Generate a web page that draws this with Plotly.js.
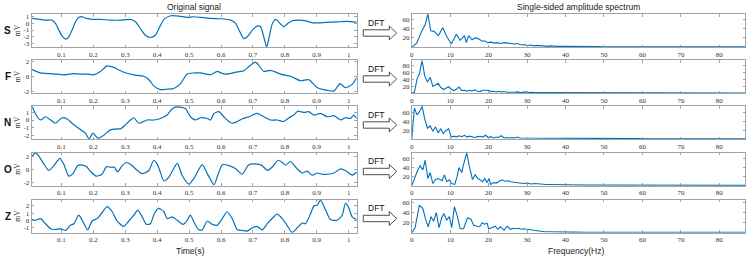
<!DOCTYPE html>
<html><head><meta charset="utf-8">
<script src="https://cdn.plot.ly/plotly-3.0.1.min.js"></script>
<style>html,body{margin:0;padding:0;background:#fff}#c{width:748px;height:263px}</style>
</head><body><div id="c"></div>
<script>
// ---------- data ----------
const classes = ['S','F','N','O','Z'];
const leftTitle = 'Original signal';
const rightTitle = 'Single-sided amplitude spectrum';
const timeLabel = 'Time(s)';
const freqLabel = 'Frequency(Hz)';
const yUnit = 'mV';

const tS = [0.008,0.034,0.055,0.071,0.081,0.092,0.102,0.113,0.123,0.133,0.144,0.154,0.165,0.178,0.196,0.222,0.253,0.285,0.316,0.332,0.347,0.363,0.379,0.394,0.408,0.421,0.442,0.468,0.494,0.515,0.536,0.567,0.599,0.63,0.646,0.659,0.671,0.684,0.698,0.713,0.724,0.734,0.743,0.751,0.761,0.771,0.785,0.797,0.809,0.823,0.844,0.865,0.886,0.912,0.943,0.975,0.995,1.025];
const yS = [0.77,0.62,0.51,0.51,0,-1.03,-1.95,-2.41,-2.05,-1.03,0.26,0.92,1.03,0.77,0.62,0.62,0.51,0.51,0.62,0.26,-0.77,-1.8,-2.15,-1.8,-0.51,0.62,1.18,1.13,0.92,1.03,0.92,0.77,0.72,0.51,0,-1.28,-2.31,-1.95,-1.03,-0.41,-0.51,-2.05,-3.59,-2.05,0,0.62,0,-0.51,0,0.41,0.51,0.41,0.1,0.1,0.2,0.26,0.31,0.2];

const tF = [0.008,0.034,0.066,0.085,0.107,0.125,0.138,0.16,0.18,0.201,0.222,0.243,0.264,0.28,0.295,0.327,0.358,0.375,0.389,0.41,0.43,0.452,0.473,0.494,0.515,0.536,0.567,0.588,0.603,0.619,0.651,0.672,0.687,0.708,0.72,0.734,0.755,0.787,0.818,0.849,0.875,0.902,0.933,0.954,0.973,0.99,1.011,1.025];
const yF = [0.9,0.45,0.35,0.3,0.2,0.3,0.35,0.3,0.3,0.2,0.65,1.4,1.2,0.85,0.55,0.2,0,-0.5,-1.3,-1.8,-1.75,-1.65,-1.0,0.3,0.45,0.45,0.2,0.65,0.4,0.3,0.6,0.75,1.3,1.9,1.4,0.65,0.8,0.3,0,-0.6,-0.45,-1.55,-1.9,-2.0,-1.0,-1.55,-1.1,-0.2];

const tN = [0.008,0.024,0.034,0.05,0.066,0.081,0.102,0.118,0.133,0.154,0.175,0.186,0.199,0.214,0.233,0.253,0.274,0.285,0.3,0.316,0.327,0.342,0.368,0.389,0.41,0.431,0.447,0.463,0.489,0.504,0.52,0.536,0.557,0.567,0.578,0.593,0.609,0.625,0.635,0.651,0.666,0.687,0.713,0.734,0.755,0.776,0.797,0.813,0.828,0.841,0.86,0.875,0.891,0.912,0.933,0.954,0.975,0.99,1.006,1.016,1.025];
const yN = [1.74,0.43,0,0.43,0,-0.43,0.3,0.13,-0.43,-1.1,-1.74,-2.48,-1.74,-2.4,-2.0,-1.3,-1.17,-1.17,-0.65,0,0.3,-0.43,0,0,0.2,0.65,1.5,1.74,1.5,0.43,0,0.3,0.2,0,0.87,1.1,0.43,-0.2,-0.43,-0.2,0.13,0.43,0.87,0.43,0,0,-0.2,0.3,0.65,1.17,1.0,1.1,0.65,0.87,0.43,0.57,0,0.3,0.2,0.65,0.2];

const tO = [0.008,0.019,0.029,0.045,0.06,0.076,0.095,0.107,0.123,0.136,0.151,0.165,0.178,0.193,0.209,0.227,0.241,0.253,0.266,0.276,0.29,0.304,0.318,0.332,0.353,0.374,0.389,0.4,0.408,0.421,0.436,0.463,0.478,0.499,0.515,0.541,0.557,0.578,0.59,0.604,0.625,0.646,0.666,0.687,0.713,0.729,0.745,0.76,0.779,0.792,0.802,0.818,0.834,0.855,0.87,0.886,0.902,0.917,0.933,0.954,0.975,0.99,1.011,1.025];
const yO = [2.05,2.54,2.05,0.83,-0.15,0.59,1.71,0.83,-1.02,-0.63,0.59,0.68,0.44,-0.39,-1.02,-0.73,0.44,0.34,0.34,-0.39,0.59,1.07,0.73,0.1,-0.63,-0.15,1.41,0.83,-0.15,-1.76,-1.22,0.93,-0.88,-2.24,-1.37,0.73,-0.63,-2.34,-0.88,0.73,0.59,0.1,-0.73,0.73,0.83,0.59,-0.15,0.34,1.41,1.07,0.68,1.22,0.34,-0.54,-0.24,-0.88,-0.54,-0.73,-0.73,-0.54,0.1,-0.15,-0.88,-0.39];

const tZ = [0.008,0.019,0.034,0.05,0.066,0.081,0.097,0.113,0.128,0.139,0.154,0.165,0.182,0.196,0.212,0.227,0.243,0.259,0.274,0.295,0.311,0.327,0.339,0.353,0.366,0.379,0.391,0.405,0.421,0.431,0.447,0.463,0.481,0.494,0.504,0.515,0.53,0.541,0.557,0.573,0.588,0.604,0.619,0.635,0.651,0.666,0.682,0.698,0.713,0.729,0.745,0.76,0.776,0.792,0.807,0.823,0.839,0.855,0.865,0.881,0.891,0.902,0.912,0.928,0.943,0.964,0.98,0.99,1.001,1.011,1.025];
const yZ = [0.1,0,0.24,-0.48,-1.19,-1.29,-1.19,-1.43,-0.71,-0.48,0.71,0,-1.33,-0.1,0.24,1.05,1.9,1.19,-0.1,-0.86,-0.1,0.71,1.43,0.48,-0.57,-0.48,0.95,1.67,1.19,0.24,0.48,0,-0.57,0,0.71,-0.24,-1.33,-1.33,-0.1,-0.57,-0.71,0.24,1.19,0.24,-1.33,-1.43,-1.52,-1.05,-0.86,-1.33,-0.48,0.24,0.86,0.24,-0.71,-1.7,-1.05,-0.38,-0.48,0.95,2.0,2.14,2.8,1.43,0.1,0,0.71,2.38,1.67,0.48,0.1];

const fS = [0,1.3,2.6,3.5,4.2,4.95,5.8,6.95,8.1,9.1,10.3,11.6,12.6,13.7,14.2,14.8,15.7,16.5,17.4,18.3,19,19.8,20.6,21.5,22.3,23.2,24.1,25,25.8,26.7,27.5,28.4,29.2,30.1,31,31.8,32.7,33.5,34.4,35.3,36.2,37,38,40,42,44,46,48,50,52,55,58,61,64,67,70,73,76,79,82,85,86.8];
const aS = [0,9,34,48,71,35,34,25,42,23,7,28,15,25,10,25,16,20,18,13,14,10,11,9,10,8,10,9,8,7,8,5,6,4,5,3,4,3,3,2,3,2,2,2,1.5,2,1.5,1.5,1.2,1.5,1.2,1.3,1,1.2,1,1.1,1,1,0.9,1,0.9,1];

const fF = [0,0.7,1.4,2.0,2.7,3.4,4.1,4.8,5.5,6.2,6.9,7.5,8.2,8.9,9.6,10.3,11,11.6,12.3,13,13.7,14.4,15,15.7,16.4,17.1,17.8,18.5,19.2,19.9,20.6,21.3,22,22.6,23.3,24,24.7,25.4,26.1,26.8,27.5,28.2,28.9,29.6,30.3,31,32,33,34,35,37,39,41,43,46,50,54,58,62,66,70,74,78,82,86.8];
const aF = [0,3,42,57,95,50,33,47,20,24,29,18,11,15,19,12,8,12,18,8,9,6,9,7,10,6,5,9,8,9,5,6,4,6,4,5,3,4,3,3,4,2,3,4,2,3,2,3,2,2,2,1.5,2,1.5,1.5,1.2,1.3,1,1.2,1,1.1,1,1,0.9,1];

const fN = [0,0.7,1.4,2.0,2.7,3.4,4.1,4.8,5.5,6.2,6.9,7.5,8.2,8.9,9.6,10.3,11,11.6,12.3,13,13.7,14.4,15,15.7,16.4,17.1,17.8,18.5,19.2,19.9,20.6,21.3,22,22.6,23.3,24,24.7,25.4,26.1,26.8,27.5,28.2,29,30,31,32,33,34,35,37,39,41,44,47,50,54,58,62,66,70,74,78,82,86.8];
const aN = [0,70,55,62,74,45,25,30,18,28,14,24,13,20,24,5,7,5,8,6,9,5,7,6,4,6,7,5,9,4,6,3,5,4,8,3,4,3,4,3,5,3,3,2,3,3,2,3,2,3,2,2,2,1.5,2,1.5,1.5,1.2,1.3,1.2,1,1.1,1,1];

const fO = [0,0.9,1.6,2.2,2.9,3.5,4.2,4.8,5.5,6.2,6.8,7.4,7.9,8.5,9.1,9.8,10.4,11.2,11.8,12.3,13,13.6,14.3,15,15.8,16.5,17.2,17.8,18.4,19,19.6,20.1,20.5,21.3,22,22.6,23.5,24.2,25,25.8,26.6,27.4,28.2,29,30,31,32,33,34,35,36,38,40,43,46,50,54,58,62,66,70,74,78,82,86.8];
const aO = [0,20,35,44,35,56,16,29,5,14,16,14,11,24,9,13,5,3,20,40,29,50,72,42,14,24,16,13,9,16,7,16,3,7,6,9,13,10,11,9,8,8,6,5,6,4,5,4,4,3,3,2.5,2,2,1.5,1.5,1.3,1.2,1.2,1,1.1,1,1,0.9,1];

const fZ = [0,0.87,2.0,2.9,3.6,4.3,5,5.7,6.4,7.1,7.8,8.4,9.1,9.8,10.4,11.1,11.9,12.6,13.5,14.5,15.4,16.1,17,17.7,18.3,18.9,19.6,20,20.9,21.7,22.4,23.1,24,24.8,25.7,26.5,27.2,27.8,28.5,29.1,29.8,30.4,31.1,31.8,32.6,33.5,34.5,35.5,37,39,42,45,48,52,56,60,64,68,72,76,80,84,86.8];
const aZ = [0,10,55,48,27,12,32,23,40,10,30,38,25,32,10,52,32,8,8,30,27,15,13,12,20,17,19,8,10,13,7,12,5,13,7,9,8,9,7,8,7,7,6,5,4,2,2,2,1.5,1.5,1.3,1.2,1.2,1,1.1,1,1,0.9,1,0.9,1,0.9,1];

const timeSeries = [[tS,yS],[tF,yF],[tN,yN],[tO,yO],[tZ,yZ]];
const spectra = [[fS,aS],[fF,aF],[fN,aN],[fO,aO],[fZ,aZ]];

const leftRanges = [[-3.65,1.45],[-2.3,2.2],[-2.55,1.85],[-2.5,2.6],[-1.75,2.9]];
const leftTicks = [[1,0,-1,-2,-3],[2,0,-2],[1,0,-1,-2],[2,0,-2],[2,1,0,-1]];
const rightRanges = [[0,71],[0,97],[0,75],[0,73],[0,66]];
const rightTicks = [[20,40,60],[20,40,60,80],[20,40,60],[20,40,60],[20,40,60]];
const timeTicks = [0.1,0.2,0.3,0.4,0.5,0.6,0.7,0.8,0.9,1];
const timeTickText = ['0.1','0.2','0.3','0.4','0.5','0.6','0.7','0.8','0.9','1'];
const freqTicks = [0,10,20,30,40,50,60,70,80];

// ---------- layout helpers ----------
const W = 748, H = 263;
const px = x => x / W, py = y => 1 - y / H;
const panelTop = [14, 60, 106, 152.5, 199.5];
const panelH = 33.3;
const leftX = [31.5, 356.7], rightX = [411.7, 745.5];
const blue = '#0072BD';
const axisCol = '#8c8c8c';
const sans = 'Liberation Sans, Arial, sans-serif';
const serif = 'Liberation Serif, Times New Roman, serif';
const tickFont = {family:serif, size:7, color:'#333'};

const data = [];
const layout = {
  width: W, height: H, margin:{l:0,r:0,t:0,b:0},
  paper_bgcolor:'#fff', plot_bgcolor:'#fff', showlegend:false,
  annotations: [], shapes: []
};
function axisCommon() {
  return {showline:true, mirror:'ticks', linecolor:axisCol, linewidth:0.8,
          ticks:'inside', ticklen:2.5, tickcolor:axisCol, tickwidth:0.8,
          showgrid:false, zeroline:false, tickfont:tickFont, fixedrange:true};
}
function note(text, x, y, font, extra) {
  return Object.assign({text:text, xref:'paper', yref:'paper', x:px(x), y:py(y),
    xanchor:'center', yanchor:'middle', showarrow:false, font:font}, extra || {});
}
for (let i = 0; i < 5; i++) {
  const yd = [py(panelTop[i] + panelH), py(panelTop[i])];
  const L = 2*i + 1, R = 2*i + 2;
  const xl = 'x' + (L === 1 ? '' : L), yl = 'y' + (L === 1 ? '' : L);
  const xr = 'x' + R, yr = 'y' + R;
  data.push({type:'scatter', mode:'lines', x: timeSeries[i][0], y: timeSeries[i][1],
    xaxis:xl, yaxis:yl, line:{color:blue, width:1.2, shape:'spline', smoothing:0.6}, hoverinfo:'skip'});
  data.push({type:'scatter', mode:'lines', x: spectra[i][0], y: spectra[i][1],
    xaxis:xr, yaxis:yr, line:{color:blue, width:1.1}, hoverinfo:'skip'});
  const kxl = 'xaxis' + (L === 1 ? '' : L), kyl = 'yaxis' + (L === 1 ? '' : L);
  layout[kxl] = Object.assign(axisCommon(), {domain:[px(leftX[0]), px(leftX[1])], range:[0.006, 1.0253],
    anchor: yl, tickvals: timeTicks, ticktext: timeTickText});
  layout[kyl] = Object.assign(axisCommon(), {domain: yd, range: leftRanges[i], anchor: xl,
    tickvals: leftTicks[i], ticktext: leftTicks[i].map(v => String(v))});
  layout['xaxis' + R] = Object.assign(axisCommon(), {domain:[px(rightX[0]), px(rightX[1])], range:[0, 86.8],
    anchor: yr, tickvals: freqTicks});
  layout['yaxis' + R] = Object.assign(axisCommon(), {domain: yd, range: rightRanges[i], anchor: xr,
    tickvals: rightTicks[i]});

  const yc = panelTop[i] + panelH/2;
  layout.annotations.push(note('<b>' + classes[i] + '</b>', 7.5, yc, {family:sans, size:10, color:'#111'}));
  layout.annotations.push(note(yUnit, 17.5, yc, {family:serif, size:7.5, color:'#333'}, {textangle:-90}));
  layout.annotations.push(note('DFT', 376, panelTop[i] + 8.5, {family:sans, size:8.5, color:'#111'}));
  const t0 = panelTop[i];
  const pts = [[363.3, t0+15.8],[389.3, t0+15.8],[389.3, t0+12],[396.7, t0+19],[389.3, t0+26],[389.3, t0+22.2],[363.3, t0+22.2]];
  const path = 'M ' + pts.map(p => px(p[0]).toFixed(5) + ',' + py(p[1]).toFixed(5)).join(' L ') + ' Z';
  layout.shapes.push({type:'path', xref:'paper', yref:'paper', path: path,
    line:{color:'#222', width:0.8}, fillcolor:'rgba(255,255,255,1)'});
}
const titleFont = {family:sans, size:8.5, color:'#222'};
layout.annotations.push(note(leftTitle, 194, 6.5, titleFont));
layout.annotations.push(note(rightTitle, 578, 6.5, titleFont));
layout.annotations.push(note(timeLabel, 190, 251, titleFont));
layout.annotations.push(note(freqLabel, 576, 251, titleFont));

Plotly.newPlot('c', data, layout, {staticPlot:true, displayModeBar:false});
</script></body></html>
